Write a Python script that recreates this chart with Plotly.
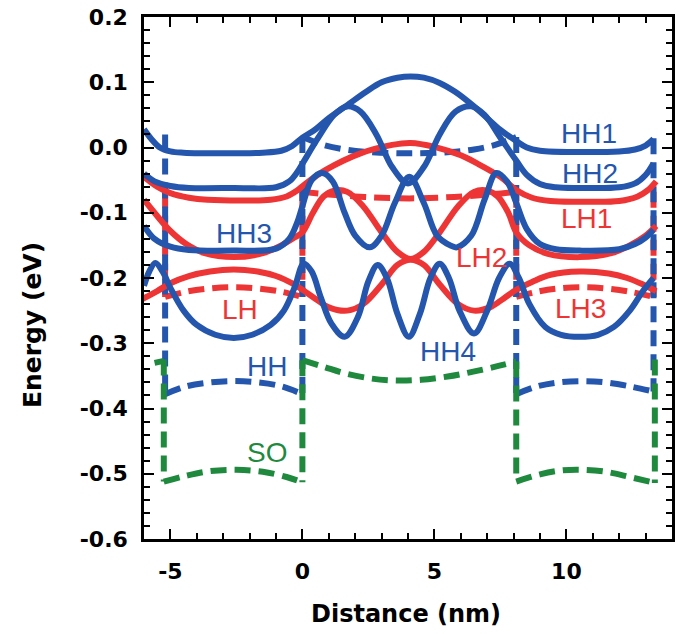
import plotly.graph_objects as go

# ---------------- data ----------------
interfaces = [-5.2, 0.0, 8.1, 13.3]

# HH sub-band curves (energy + probability density), eV vs nm
hh1_x = [-6.0, -5.7, -5.4, -5.0, -4.5, -3.0, -1.5, -0.8, -0.4, 0.0, 0.5, 1.0, 1.7, 2.4, 3.0, 3.6, 4.1, 4.6, 5.2, 5.8, 6.5, 7.0, 7.5, 8.1, 8.5, 9.0, 10.5, 12.0, 12.6, 13.0, 13.3]
hh1_y = [0.028, 0.012, 0.0, -0.006, -0.008, -0.009, -0.008, -0.005, 0.002, 0.015, 0.028, 0.045, 0.065, 0.085, 0.100, 0.107, 0.109, 0.107, 0.099, 0.085, 0.063, 0.045, 0.027, 0.010, 0.0, -0.005, -0.007, -0.006, -0.003, 0.003, 0.013]

hh2_x = [-6.0, -5.6, -5.0, -4.3, -2.6, -1.0, -0.5, -0.2, 0.0, 0.6, 1.2, 1.7, 2.2, 2.8, 3.4, 4.0, 4.6, 5.2, 5.8, 6.4, 6.9, 7.5, 8.1, 8.5, 9.0, 9.6, 10.5, 12.0, 12.6, 13.0, 13.3]
hh2_y = [-0.040, -0.052, -0.059, -0.062, -0.062, -0.061, -0.052, -0.038, -0.025, 0.015, 0.050, 0.063, 0.055, 0.020, -0.030, -0.055, -0.030, 0.020, 0.055, 0.063, 0.050, 0.015, -0.020, -0.042, -0.056, -0.061, -0.062, -0.061, -0.055, -0.042, -0.024]

hh3_x = [-6.0, -5.6, -5.0, -4.3, -2.6, -1.0, -0.5, -0.2, 0.0, 0.35, 0.75, 1.15, 1.6, 2.0, 2.55, 3.0, 3.5, 4.05, 4.6, 5.1, 5.6, 5.85, 6.4, 6.9, 7.35, 7.75, 8.1, 8.5, 9.0, 9.6, 10.5, 12.0, 12.6, 13.0, 13.3]
hh3_y = [-0.120, -0.140, -0.152, -0.157, -0.158, -0.155, -0.140, -0.115, -0.090, -0.050, -0.039, -0.052, -0.100, -0.135, -0.153, -0.135, -0.085, -0.045, -0.085, -0.135, -0.150, -0.153, -0.135, -0.080, -0.039, -0.052, -0.085, -0.125, -0.148, -0.156, -0.158, -0.156, -0.148, -0.138, -0.126]

hh4_x = [-6.0, -5.8, -5.57, -5.3, -5.0, -4.5, -4.0, -3.3, -2.6, -1.9, -1.2, -0.7, -0.3, 0.05, 0.35, 0.7, 1.1, 1.6, 2.1, 2.5, 2.85, 3.2, 3.6, 4.03, 4.45, 4.85, 5.2, 5.55, 5.95, 6.5, 7.0, 7.45, 7.85, 8.2, 8.6, 9.2, 9.8, 10.5, 11.2, 11.8, 12.4, 12.9, 13.3]
hh4_y = [-0.212, -0.190, -0.177, -0.190, -0.215, -0.250, -0.272, -0.287, -0.292, -0.287, -0.272, -0.250, -0.215, -0.178, -0.190, -0.230, -0.270, -0.290, -0.260, -0.205, -0.180, -0.200, -0.255, -0.290, -0.255, -0.200, -0.178, -0.200, -0.250, -0.285, -0.250, -0.200, -0.178, -0.200, -0.240, -0.275, -0.287, -0.290, -0.287, -0.275, -0.250, -0.220, -0.200]

# LH sub-band curves
lh1_x = [-6.0, -5.5, -5.0, -4.3, -3.6, -1.2, -0.6, -0.2, 0.1, 0.9, 2.2, 3.4, 4.1, 5.0, 6.0, 6.6, 7.5, 8.1, 8.7, 9.4, 10.5, 12.0, 12.7, 13.1, 13.4]
lh1_y = [-0.045, -0.060, -0.070, -0.077, -0.080, -0.080, -0.075, -0.066, -0.056, -0.034, -0.009, 0.004, 0.007, 0.001, -0.012, -0.024, -0.045, -0.065, -0.077, -0.082, -0.083, -0.082, -0.075, -0.065, -0.052]

lh2_x = [-6.0, -5.5, -5.0, -4.4, -3.7, -2.6, -1.5, -0.8, -0.3, 0.0, 0.4, 0.8, 1.2, 1.7, 2.3, 3.0, 3.6, 4.1, 4.6, 5.2, 5.9, 6.5, 7.0, 7.4, 7.8, 8.1, 8.6, 9.3, 10.5, 11.7, 12.4, 13.0, 13.4]
lh2_y = [-0.080, -0.105, -0.128, -0.148, -0.162, -0.168, -0.162, -0.150, -0.138, -0.130, -0.100, -0.075, -0.066, -0.068, -0.090, -0.130, -0.160, -0.171, -0.160, -0.130, -0.090, -0.068, -0.066, -0.075, -0.100, -0.130, -0.150, -0.163, -0.168, -0.162, -0.150, -0.135, -0.120]

lh3_x = [-6.05, -5.5, -5.0, -4.3, -3.5, -2.6, -1.7, -1.0, -0.4, 0.0, 0.5, 1.0, 1.7, 2.3, 3.0, 3.6, 4.1, 4.6, 5.2, 5.9, 6.5, 7.1, 7.6, 8.1, 8.7, 9.4, 10.5, 11.6, 12.3, 12.9, 13.4]
lh3_y = [-0.232, -0.220, -0.208, -0.197, -0.190, -0.187, -0.190, -0.197, -0.208, -0.218, -0.232, -0.245, -0.250, -0.240, -0.210, -0.180, -0.172, -0.180, -0.210, -0.240, -0.250, -0.245, -0.232, -0.218, -0.206, -0.195, -0.190, -0.193, -0.200, -0.210, -0.220]

# Band edges (dashed)
hh_edge_barrier_x = [[-5.2, -4.4, -3.5, -2.6, -1.7, -0.8, 0.0], [8.1, 8.9, 9.7, 10.6, 11.5, 12.4, 13.3]]
hh_edge_barrier_y = [[-0.378, -0.366, -0.360, -0.358, -0.360, -0.366, -0.378], [-0.378, -0.366, -0.360, -0.358, -0.360, -0.366, -0.374]]
hh_edge_well_x = [0.0, 0.8, 1.6, 2.5, 4.05, 5.6, 6.5, 7.3, 8.1]
hh_edge_well_y = [0.016, 0.004, -0.003, -0.007, -0.009, -0.007, -0.003, 0.004, 0.016]
hh_edge_vert = [(0.02, -0.376), (0.016, -0.378), (0.016, -0.378), (0.014, -0.374)]

lh_edge_barrier_x = [[-5.2, -4.4, -3.5, -2.6, -1.7, -0.8, 0.0], [8.1, 8.9, 9.7, 10.6, 11.5, 12.4, 13.3]]
lh_edge_barrier_y = [[-0.229, -0.221, -0.216, -0.214, -0.216, -0.221, -0.229], [-0.229, -0.221, -0.216, -0.214, -0.216, -0.221, -0.229]]
lh_edge_well_x = [0.0, 1.0, 2.0, 3.0, 4.05, 5.1, 6.1, 7.1, 8.1]
lh_edge_well_y = [-0.068, -0.072, -0.075, -0.077, -0.078, -0.077, -0.075, -0.072, -0.068]
lh_edge_vert = [(-0.068, -0.229), (-0.068, -0.229), (-0.068, -0.229), (-0.068, -0.229)]

so_edge_barrier_x = [[-5.25, -4.4, -3.5, -2.5, -1.5, -0.6, 0.0], [8.1, 9.0, 9.8, 10.6, 11.5, 12.4, 13.35]]
so_edge_barrier_y = [[-0.512, -0.503, -0.496, -0.494, -0.497, -0.505, -0.513], [-0.512, -0.501, -0.495, -0.494, -0.497, -0.505, -0.514]]
so_edge_well_x = [0.0, 0.8, 1.6, 2.6, 3.5, 4.5, 5.5, 6.3, 7.2, 8.1]
so_edge_well_y = [-0.326, -0.336, -0.346, -0.354, -0.357, -0.356, -0.351, -0.345, -0.337, -0.328]
so_edge_vert_x = [-5.25, 0.0, 8.1, 13.35]
so_edge_vert = [(-0.325, -0.512), (-0.326, -0.513), (-0.328, -0.512), (-0.325, -0.514)]
so_edge_cap_x = [-5.6, -5.25]
so_edge_cap_y = [-0.330, -0.327]

labels = ["HH1", "HH2", "LH1", "HH3", "LH2", "LH", "LH3", "HH", "HH4", "SO"]
label_x = [10.84, 10.88, 10.77, -2.2, 6.8, -2.35, 10.54, -1.33, 5.51, -1.33]
label_y = [0.021, -0.040, -0.109, -0.132, -0.168, -0.249, -0.246, -0.336, -0.312, -0.468]
label_kind = ["HH", "HH", "LH", "HH", "LH", "LH", "LH", "HH", "HH", "SO"]

x_tickvals = [-5, 0, 5, 10]
x_ticktext = ["-5", "0", "5", "10"]
y_tickvals = [0.2, 0.1, 0.0, -0.1, -0.2, -0.3, -0.4, -0.5, -0.6]
y_ticktext = ["0.2", "0.1", "0.0", "-0.1", "-0.2", "-0.3", "-0.4", "-0.5", "-0.6"]

# ---------------- styling ----------------
BLUE = "#2456ad"
RED = "#ee3535"
GREEN = "#1f8a3e"
COLORS = {"HH": BLUE, "LH": RED, "SO": GREEN}
LW = 6
DASH = "16px,8px"

fig = go.Figure()


def dashed(x, y, color, shape="spline"):
    fig.add_trace(go.Scatter(x=x, y=y, mode="lines",
                             line=dict(color=color, width=LW, dash=DASH, shape=shape, smoothing=1.0),
                             hoverinfo="skip", showlegend=False))


def solid(x, y, color):
    fig.add_trace(go.Scatter(x=x, y=y, mode="lines",
                             line=dict(color=color, width=LW, shape="spline", smoothing=1.0),
                             hoverinfo="skip", showlegend=False))


for xi, (ya, yb) in zip(interfaces, lh_edge_vert):
    dashed([xi, xi], [ya, yb], RED, "linear")
for bx, by in zip(lh_edge_barrier_x, lh_edge_barrier_y):
    dashed(bx, by, RED)
dashed(lh_edge_well_x, lh_edge_well_y, RED)

for xi, (ya, yb) in zip(interfaces, hh_edge_vert):
    dashed([xi, xi], [ya, yb], BLUE, "linear")
for bx, by in zip(hh_edge_barrier_x, hh_edge_barrier_y):
    dashed(bx, by, BLUE)
dashed(hh_edge_well_x, hh_edge_well_y, BLUE)

for xi, (ya, yb) in zip(so_edge_vert_x, so_edge_vert):
    dashed([xi, xi], [ya, yb], GREEN, "linear")
for bx, by in zip(so_edge_barrier_x, so_edge_barrier_y):
    dashed(bx, by, GREEN)
dashed(so_edge_well_x, so_edge_well_y, GREEN)
dashed(so_edge_cap_x, so_edge_cap_y, GREEN, "linear")

solid(lh3_x, lh3_y, RED)
solid(lh2_x, lh2_y, RED)
solid(lh1_x, lh1_y, RED)
solid(hh4_x, hh4_y, BLUE)
solid(hh3_x, hh3_y, BLUE)
solid(hh2_x, hh2_y, BLUE)
solid(hh1_x, hh1_y, BLUE)

for t, lx, ly, k in zip(labels, label_x, label_y, label_kind):
    fig.add_annotation(x=lx, y=ly, text=t, showarrow=False, xanchor="center", yanchor="middle",
                       font=dict(family="Liberation Sans, Arial", size=28, color=COLORS[k]))

TICKFONT = dict(family="DejaVu Sans", size=22, color="black", weight="bold")

fig.update_xaxes(range=[-6, 14], tickvals=x_tickvals, ticktext=x_ticktext, ticks="inside", ticklen=10,
                 tickwidth=2, tickcolor="black", showline=True, linewidth=2.5, linecolor="black",
                 mirror="ticks", showgrid=False, zeroline=False, tickfont=TICKFONT, ticklabelstandoff=11,
                 automargin=False,
                 minor=dict(ticks="inside", ticklen=6, tickwidth=2, tickcolor="black", dtick=1, tick0=0))
fig.update_yaxes(range=[-0.6, 0.2], tickvals=y_tickvals, ticktext=y_ticktext, ticks="inside", ticklen=10,
                 tickwidth=2, tickcolor="black", showline=True, linewidth=2.5, linecolor="black",
                 mirror="ticks", showgrid=False, zeroline=False, tickfont=TICKFONT, ticklabelstandoff=9,
                 automargin=False,
                 minor=dict(ticks="inside", ticklen=6, tickwidth=2, tickcolor="black", dtick=0.02, tick0=0))

fig.add_annotation(text="Distance (nm)", xref="paper", yref="paper", x=0.496, y=-0.144,
                   showarrow=False, xanchor="center", yanchor="middle",
                   font=dict(family="DejaVu Sans", size=24, color="black", weight="bold"))
fig.add_annotation(text="Energy (eV)", xref="paper", yref="paper", x=-0.21, y=0.41, textangle=-90,
                   showarrow=False, xanchor="center", yanchor="middle",
                   font=dict(family="DejaVu Sans", size=25, color="black", weight="bold"))

fig.update_layout(width=683, height=634, margin=dict(l=144, r=11, t=17, b=95),
                  paper_bgcolor="white", plot_bgcolor="white", showlegend=False)

fig.write_html("out.html", config={"displayModeBar": False},
               post_script="document.body.style.margin='0';document.body.style.overflow='hidden';")
